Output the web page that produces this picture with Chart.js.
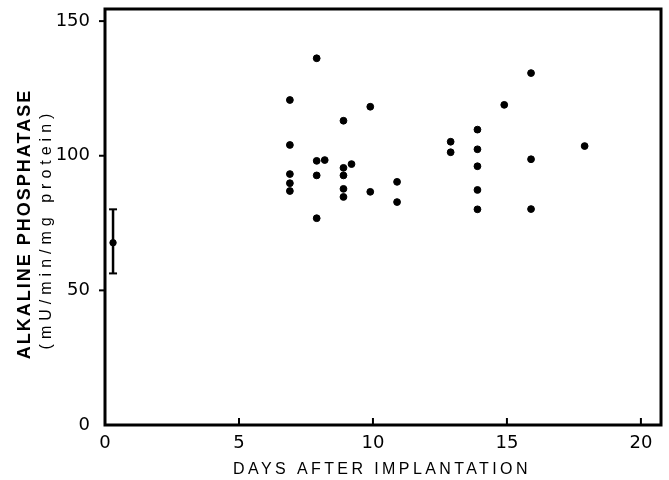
<!DOCTYPE html>
<html>
<head>
<meta charset="utf-8">
<script src="https://cdn.jsdelivr.net/npm/chart.js@4.4.1/dist/chart.umd.min.js"></script>
<style>
body { margin: 0; background: #fff; }
#wrap { width: 669px; height: 480px; position: relative; }
</style>
</head>
<body>
<div id="wrap"><canvas id="scatter_chart"></canvas></div>
<script>
// days after implantation and enzyme activity
var days = [6.9, 6.9, 6.9, 6.9, 6.9,
            7.9, 7.9, 7.9, 7.9, 8.2,
            8.9, 8.9, 8.9, 8.9, 8.9, 9.2,
            9.9, 9.9,
            10.9, 10.9,
            12.9, 12.9,
            13.9, 13.9, 13.9, 13.9, 13.9,
            14.9,
            15.9, 15.9, 15.9,
            17.9];
var activity = [120.7, 104.0, 93.2, 89.8, 86.9,
                136.2, 98.1, 92.7, 76.8, 98.4,
                113.0, 95.5, 92.7, 87.7, 84.7, 96.9,
                118.2, 86.6,
                90.3, 82.8,
                105.2, 101.3,
                109.7, 102.4, 96.1, 87.3, 80.1,
                118.9,
                130.7, 98.7, 80.2,
                103.6];

// control value (mean with range)
var baseDay = [0.3];
var baseMean = [67.7];
var baseLow = [56.3];
var baseHigh = [80.1];

var xTicks = [0, 5, 10, 15, 20];
var yTicks = [0, 50, 100, 150];

var FONT = "'Liberation Sans', Arial, Helvetica, sans-serif";
var TICK_FONT = "'DejaVu Sans', 'Liberation Sans', sans-serif";

var points = days.map(function (d, i) { return {x: d, y: activity[i]}; });
var basePoints = baseDay.map(function (d, i) { return {x: d, y: baseMean[i]}; });

var framePlugin = {
    id: 'frame',
    afterDraw: function (chart) {
        var c = chart.ctx;
        var a = chart.chartArea;
        var xs = chart.scales.x, ys = chart.scales.y;
        c.save();
        c.strokeStyle = '#000';
        c.fillStyle = '#000';

        // box
        c.lineWidth = 3;
        c.strokeRect(a.left, a.top, a.right - a.left, a.bottom - a.top);

        // tick marks
        c.lineWidth = 2;
        yTicks.forEach(function (v) {
            if (v === 0) return;
            var py = ys.getPixelForValue(v);
            c.beginPath(); c.moveTo(a.left - 6, py); c.lineTo(a.left, py); c.stroke();
        });
        xTicks.forEach(function (v) {
            if (v === 0) return;
            var px = xs.getPixelForValue(v);
            c.beginPath(); c.moveTo(px, a.bottom); c.lineTo(px, a.bottom - 7); c.stroke();
        });

        // range bar for the control
        baseDay.forEach(function (d, i) {
            var px = xs.getPixelForValue(d);
            var top = ys.getPixelForValue(baseHigh[i]);
            var bot = ys.getPixelForValue(baseLow[i]);
            c.lineWidth = 2.5;
            c.beginPath(); c.moveTo(px, top); c.lineTo(px, bot); c.stroke();
            c.lineWidth = 2;
            c.beginPath(); c.moveTo(px - 4, top); c.lineTo(px + 4, top); c.stroke();
            c.beginPath(); c.moveTo(px - 4, bot); c.lineTo(px + 4, bot); c.stroke();
        });

        // axis titles
        c.textAlign = 'center';
        c.textBaseline = 'middle';
        c.font = '16px ' + FONT;
        c.letterSpacing = '3.4px';
        c.fillText('DAYS AFTER IMPLANTATION', 382, 470);

        c.translate(25, 224);
        c.rotate(-Math.PI / 2);
        c.font = 'bold 18px ' + FONT;
        c.letterSpacing = '2px';
        c.fillText('ALKALINE PHOSPHATASE', 0, 0);
        c.font = '16px ' + FONT;
        c.letterSpacing = '5px';
        c.fillText('(mU/min/mg protein)', -5, 22);
        c.restore();
    }
};

var ctx = document.getElementById('scatter_chart').getContext('2d');
var myChart = new Chart(ctx, {
    type: 'scatter',
    data: {
        datasets: [{
            label: 'Implanted',
            data: points,
            backgroundColor: '#000',
            borderColor: '#000',
            pointRadius: 3.4,
            pointHoverRadius: 3.4
        }, {
            label: 'Control',
            data: basePoints,
            backgroundColor: '#000',
            borderColor: '#000',
            pointRadius: 3.2,
            pointHoverRadius: 3.2
        }]
    },
    options: {
        responsive: true,
        maintainAspectRatio: false,
        animation: false,
        events: [],
        layout: { padding: { left: 0, right: 8, top: 9, bottom: 0 } },
        plugins: {
            legend: { display: false },
            tooltip: { enabled: false }
        },
        scales: {
            x: {
                type: 'linear',
                min: 0,
                max: 20.75,
                grid: { display: false },
                border: { display: false },
                afterBuildTicks: function (s) { s.ticks = xTicks.map(function (v) { return {value: v}; }); },
                afterFit: function (s) { s.height = 55; s.paddingLeft = 0; s.paddingRight = 0; },
                ticks: {
                    color: '#000',
                    padding: 0,
                    maxRotation: 0,
                    font: { family: TICK_FONT, size: 18 }
                }
            },
            y: {
                type: 'linear',
                min: 0,
                max: 154.5,
                grid: { display: false },
                border: { display: false },
                afterBuildTicks: function (s) { s.ticks = yTicks.map(function (v) { return {value: v}; }); },
                afterFit: function (s) { s.width = 105; s.paddingTop = 0; s.paddingBottom = 0; },
                ticks: {
                    color: '#000',
                    padding: 7,
                    font: { family: TICK_FONT, size: 18 }
                }
            }
        }
    },
    plugins: [framePlugin]
});
</script>
</body>
</html>
